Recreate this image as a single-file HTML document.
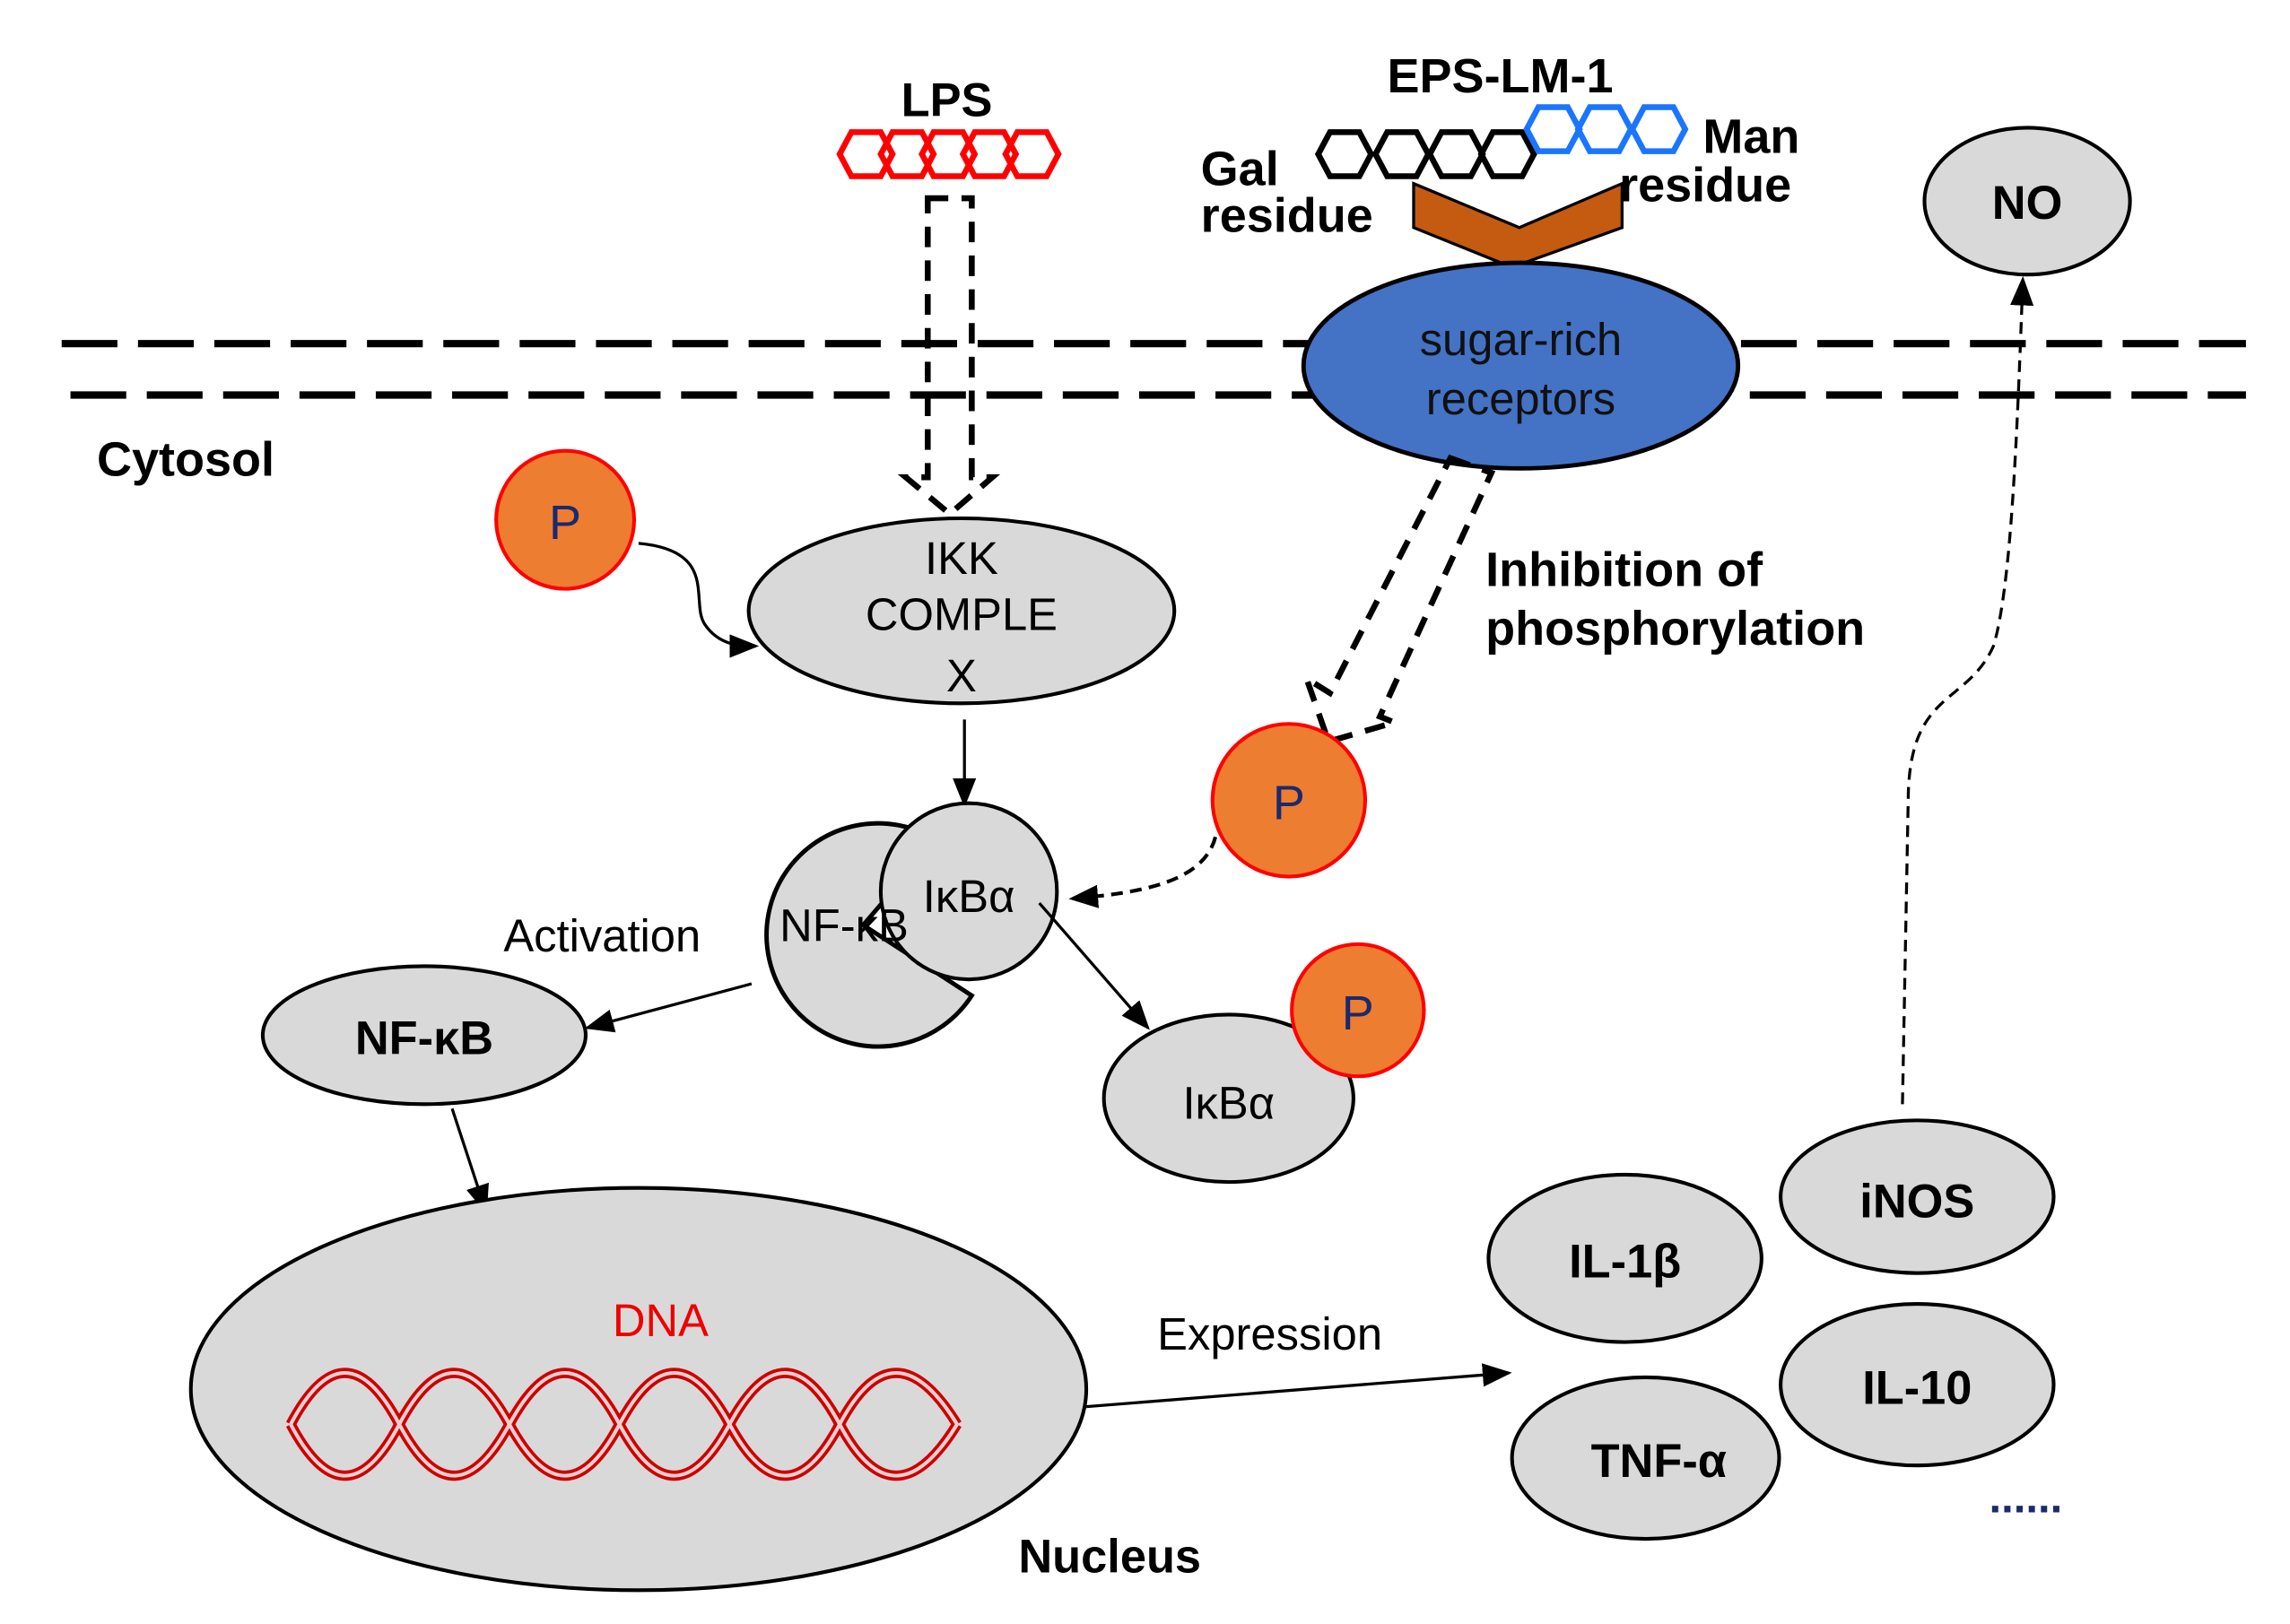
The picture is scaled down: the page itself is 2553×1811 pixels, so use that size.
<!DOCTYPE html>
<html><head><meta charset="utf-8"><style>
html,body{margin:0;padding:0;background:#fff}
svg{display:block}
text{font-family:"Liberation Sans",sans-serif}
.b{font-weight:bold}
</style></head><body>
<svg width="2553" height="1811" viewBox="0 0 1560 1106" preserveAspectRatio="none" xmlns="http://www.w3.org/2000/svg">
<defs>
<path id="hx" d="M-18,0 L-10,-15 L10,-15 L18,0 L10,15 L-10,15 Z" fill="none" stroke-width="4"/>
<marker id="ar2" markerWidth="20" markerHeight="16" refX="18" refY="8" orient="auto" markerUnits="userSpaceOnUse" viewBox="0 0 20 16"><path d="M0,0 L20,8 L0,16 Z" fill="#000"/></marker>
</defs>
<line x1="42" y1="234" x2="1530" y2="234" stroke="#000" stroke-width="5" stroke-dasharray="38,14"/>
<line x1="48" y1="269" x2="1530" y2="269" stroke="#000" stroke-width="5" stroke-dasharray="38,14"/>
<g stroke="#f00"><use href="#hx" x="590" y="105"/><use href="#hx" x="618" y="105"/><use href="#hx" x="646" y="105"/><use href="#hx" x="674" y="105"/><use href="#hx" x="703" y="105"/></g>
<text x="645" y="79" class="b" font-size="32" text-anchor="middle">LPS</text>
<g stroke="#000"><use href="#hx" x="916" y="105"/><use href="#hx" x="955" y="105"/><use href="#hx" x="992" y="105"/><use href="#hx" x="1027" y="105"/></g>
<g stroke="#1a75ff"><use href="#hx" x="1058" y="88"/><use href="#hx" x="1093" y="88"/><use href="#hx" x="1130" y="88"/></g>
<text x="1022" y="63" class="b" font-size="33" text-anchor="middle">EPS-LM-1</text>
<text x="818" y="126" class="b" font-size="33">Gal</text>
<text x="818" y="158" class="b" font-size="33">residue</text>
<text x="1160" y="104" class="b" font-size="33">Man</text>
<text x="1103" y="137" class="b" font-size="33">residue</text>
<polygon points="963,125 1035,155 1105,125 1105,155 1030,182 963,155" fill="#C55A11" stroke="#000" stroke-width="2"/>
<ellipse cx="1036" cy="249" rx="148" ry="70" fill="#4472C4" stroke="#000" stroke-width="3"/>
<text x="1036" y="242" font-size="31" text-anchor="middle" fill="#111">sugar-rich</text>
<text x="1036" y="282" font-size="31" text-anchor="middle" fill="#111">receptors</text>
<ellipse cx="1381" cy="137" rx="70" ry="50" fill="#d9d9d9" stroke="#000" stroke-width="2.5"/>
<text x="1381" y="149" class="b" font-size="32" text-anchor="middle">NO</text>
<text x="66" y="324" class="b" font-size="33">Cytosol</text>
<polygon points="632,135 662,135 662,325 676,325 647,350 617,325 632,325" fill="none" stroke="#000" stroke-width="4" stroke-dasharray="14,9"/>
<polygon points="988,312 1016,322 940,488 950,492 905,505 890,462 906,472" fill="none" stroke="#000" stroke-width="4" stroke-dasharray="14,9"/>
<text x="1012" y="399" class="b" font-size="33">Inhibition of</text>
<text x="1012" y="439" class="b" font-size="33">phosphorylation</text>
<circle cx="385" cy="354" r="47" fill="#ED7D31" stroke="#f00" stroke-width="2.5"/>
<text x="385" y="367" font-size="33" text-anchor="middle" fill="#1a2a6c">P</text>
<path d="M435,370 C490,375 470,410 480,425 C490,440 505,440 515,440" fill="none" stroke="#000" stroke-width="2" marker-end="url(#ar2)"/>
<ellipse cx="655" cy="416" rx="145" ry="63" fill="#d9d9d9" stroke="#000" stroke-width="2.5"/>
<text x="655" y="391" font-size="31" text-anchor="middle">IKK</text>
<text x="655" y="429" font-size="31" text-anchor="middle">COMPLE</text>
<text x="655" y="471" font-size="31" text-anchor="middle">X</text>
<line x1="657" y1="490" x2="657" y2="548" stroke="#000" stroke-width="2" marker-end="url(#ar2)"/>
<path d="M588,630 L662,678 A76,76 0 1 1 638,572 Z" fill="#d9d9d9" stroke="#000" stroke-width="3"/>
<circle cx="660" cy="607" r="60" fill="#d9d9d9" stroke="#000" stroke-width="2.5"/>
<text x="660" y="621" font-size="31" text-anchor="middle">IκBα</text>
<text x="575" y="641" font-size="31" text-anchor="middle">NF-κB</text>
<text x="343" y="648" font-size="31">Activation</text>
<line x1="512" y1="670" x2="400" y2="700" stroke="#000" stroke-width="2" marker-end="url(#ar2)"/>
<ellipse cx="289" cy="705" rx="110" ry="47" fill="#d9d9d9" stroke="#000" stroke-width="2.5"/>
<text x="289" y="718" class="b" font-size="32" text-anchor="middle">NF-κB</text>
<line x1="308" y1="755" x2="331" y2="825" stroke="#000" stroke-width="2" marker-end="url(#ar2)"/>
<circle cx="878" cy="545" r="52" fill="#ED7D31" stroke="#f00" stroke-width="2.5"/>
<text x="878" y="558" font-size="33" text-anchor="middle" fill="#1a2a6c">P</text>
<path d="M828,570 C820,600 780,608 730,612" fill="none" stroke="#000" stroke-width="2.5" stroke-dasharray="8,5" marker-end="url(#ar2)"/>
<line x1="708" y1="615" x2="782" y2="700" stroke="#000" stroke-width="2" marker-end="url(#ar2)"/>
<ellipse cx="837" cy="748" rx="85" ry="57" fill="#d9d9d9" stroke="#000" stroke-width="2.5"/>
<text x="837" y="762" font-size="31" text-anchor="middle">IκBα</text>
<circle cx="925" cy="688" r="45" fill="#ED7D31" stroke="#f00" stroke-width="2.5"/>
<text x="925" y="701" font-size="33" text-anchor="middle" fill="#1a2a6c">P</text>
<ellipse cx="435" cy="946" rx="305" ry="137" fill="#d9d9d9" stroke="#000" stroke-width="2.5"/>
<text x="450" y="910" font-size="31" text-anchor="middle" fill="#e00">DNA</text>
<g fill="none" stroke="#c00" stroke-width="7">
<path d="M198,970 Q235,900 272,970 T347,970 T422,970 T497,970 T572,970 T652,970"/>
<path d="M198,970 Q235,1040 272,970 T347,970 T422,970 T497,970 T572,970 T652,970"/>
</g>
<g fill="none" stroke="#f0d0d0" stroke-width="2.5">
<path d="M198,970 Q235,900 272,970 T347,970 T422,970 T497,970 T572,970 T652,970"/>
<path d="M198,970 Q235,1040 272,970 T347,970 T422,970 T497,970 T572,970 T652,970"/>
</g>
<text x="756" y="1071" class="b" font-size="32" text-anchor="middle">Nucleus</text>
<text x="865" y="919" font-size="31" text-anchor="middle">Expression</text>
<line x1="740" y1="958" x2="1028" y2="935" stroke="#000" stroke-width="2" marker-end="url(#ar2)"/>
<ellipse cx="1107" cy="857" rx="93" ry="57" fill="#d9d9d9" stroke="#000" stroke-width="2.5"/>
<text x="1107" y="870" class="b" font-size="32" text-anchor="middle">IL-1β</text>
<ellipse cx="1121" cy="993" rx="91" ry="55" fill="#d9d9d9" stroke="#000" stroke-width="2.5"/>
<text x="1130" y="1006" class="b" font-size="32" text-anchor="middle">TNF-α</text>
<ellipse cx="1306" cy="815" rx="93" ry="52" fill="#d9d9d9" stroke="#000" stroke-width="2.5"/>
<text x="1306" y="829" class="b" font-size="32" text-anchor="middle">iNOS</text>
<ellipse cx="1306" cy="943" rx="93" ry="55" fill="#d9d9d9" stroke="#000" stroke-width="2.5"/>
<text x="1306" y="956" class="b" font-size="32" text-anchor="middle">IL-10</text>
<text x="1380" y="1030" class="b" font-size="30" text-anchor="middle" fill="#1a2a6c">......</text>
<path d="M1296,752 L1300,540 C1302,470 1340,480 1358,440 C1370,400 1374,300 1378,190" fill="none" stroke="#000" stroke-width="2" stroke-dasharray="8,5" marker-end="url(#ar2)"/>
</svg>
</body></html>
